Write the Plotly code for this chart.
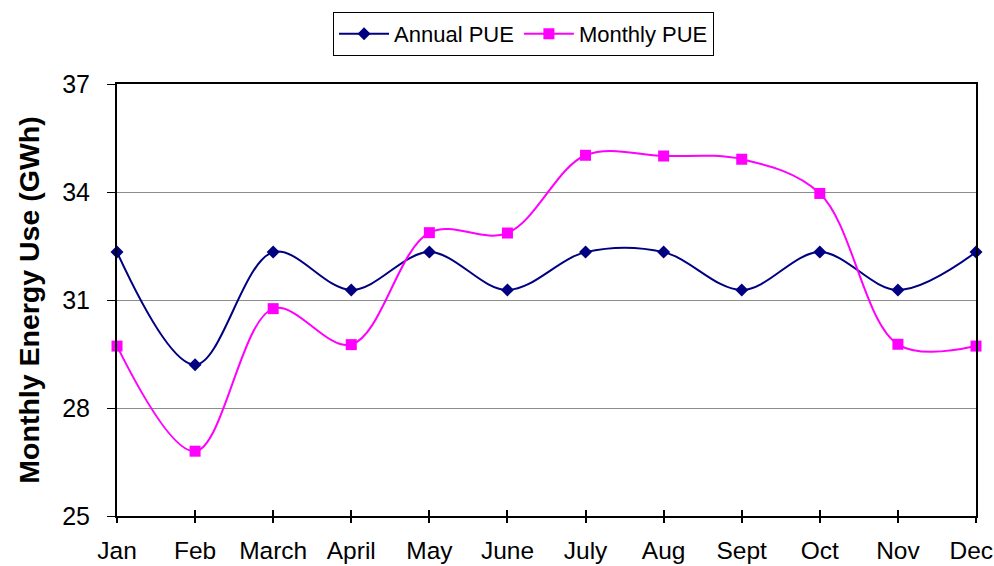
import plotly.graph_objects as go

months = ["Jan", "Feb", "March", "April", "May", "June", "July",
          "Aug", "Sept", "Oct", "Nov", "Dec"]
annual_pue = [32.33, 29.2, 32.33, 31.28, 32.33, 31.28, 32.33,
              32.33, 31.28, 32.33, 31.28, 32.33]
monthly_pue = [29.72, 26.8, 30.76, 29.76, 32.87, 32.86, 35.02,
               35.0, 34.91, 33.96, 29.77, 29.72]
y_ticks = [25, 28, 31, 34, 37]

x = list(range(len(months)))
FONT = "Liberation Sans, Arial, sans-serif"

# category labels: the last one is pulled in slightly so it stays on the page
LAST_LABEL_NUDGE = 0.06
label_pos = x[:-1] + [x[-1] - LAST_LABEL_NUDGE]

fig = go.Figure()
fig.add_trace(go.Scatter(
    x=x, y=annual_pue, name="Annual PUE", mode="lines+markers",
    line=dict(color="#000080", width=2, shape="spline", smoothing=1),
    marker=dict(symbol="diamond", size=10, color="#000080"),
    cliponaxis=False,
))
fig.add_trace(go.Scatter(
    x=x, y=monthly_pue, name="Monthly PUE", mode="lines+markers",
    line=dict(color="#FF00FF", width=2, shape="spline", smoothing=1),
    marker=dict(symbol="square", size=11, color="#FF00FF"),
    cliponaxis=False,
))

# invisible carriers so the two tick-mark overlay axes get drawn
for ax in ("x2", "x3"):
    fig.add_trace(go.Scatter(
        x=x, y=annual_pue, xaxis=ax, yaxis="y", mode="markers",
        marker=dict(opacity=0), showlegend=False, hoverinfo="skip",
    ))

# tick marks that cross the axis line: one overlay axis ticks outward, one inward
tick_axis = dict(
    overlaying="x", range=[0, 11], tickvals=x,
    showticklabels=False, showgrid=False, zeroline=False,
    automargin=False, ticklen=6, tickwidth=2, tickcolor="black",
    anchor="y", side="bottom",
)

fig.update_layout(
    width=994, height=566,
    margin=dict(l=117, r=18, t=80, b=50),
    paper_bgcolor="white", plot_bgcolor="white",
    font=dict(family=FONT, size=25, color="black"),
    showlegend=True,
    legend=dict(
        orientation="h", x=0.2515, y=1.167, xanchor="left", yanchor="top",
        bordercolor="black", borderwidth=1, bgcolor="white",
        font=dict(family=FONT, size=22), itemwidth=50,
    ),
    xaxis=dict(
        range=[0, 11], tickvals=label_pos, ticktext=months, automargin=False,
        showgrid=False, zeroline=False,
        showline=True, linecolor="black", linewidth=2, mirror=True,
        ticks="", tickfont=dict(family=FONT, size=24.5),
        ticklabeloverflow="allow", ticklabelstandoff=12,
    ),
    xaxis2=dict(tick_axis, ticks="outside"),
    xaxis3=dict(tick_axis, ticks="inside"),
    yaxis=dict(
        range=[25, 37], tickvals=y_ticks,
        showgrid=True, gridcolor="#8c8c8c", gridwidth=1, zeroline=False,
        showline=True, linecolor="black", linewidth=2, mirror=True,
        ticks="outside", ticklen=8, tickwidth=1, tickcolor="black",
        tickfont=dict(family=FONT, size=25), ticklabelstandoff=12,
        title=dict(text="<b>Monthly Energy Use (GWh)</b>",
                   font=dict(family=FONT, size=28.5), standoff=14),
    ),
)

fig.write_html("out.html")
